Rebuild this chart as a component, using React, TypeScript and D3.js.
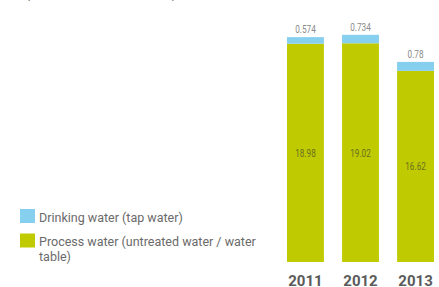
import React from 'react';
import * as d3 from 'd3';

const years = ['2011', '2012', '2013'];
const processWater = [18.98, 19.02, 16.62];
const drinkingWater = [0.574, 0.734, 0.78];
const legendLabels = [
  ['Drinking water (tap water)'],
  ['Process water (untreated water / water', 'table)'],
];

const W = 439;
const H = 287;
const BLUE = '#86cfef';
const GREEN = '#bfcb00';

// condensed-looking label: squeeze horizontally around its anchor
function Narrow(props: { x: number; y: number; fill: string; children: any }) {
  return (
    <g transform={`translate(${props.x},${props.y}) scale(0.78,1)`}>
      <text textAnchor="middle" fontSize={10.5} fill={props.fill}
        fontFamily="Roboto, sans-serif">{props.children}</text>
    </g>
  );
}

export default function App() {
  const x = d3.scaleBand().domain(years).range([276, 445]).paddingInner(0.33).paddingOuter(0.2);
  const y = d3.scaleLinear().domain([0, 20]).range([262, 32]);

  return (
    <svg width={W} height={H} style={{ position: 'absolute', left: 0, top: 0 }}>
      <text x={24} y={-3} fontSize={18} fill="#777" fontFamily="Roboto, sans-serif"
        textLength={154}>(in thousand m³)</text>
      {years.map((yr, i) => {
        const bx = x(yr)!;
        const bw = x.bandwidth();
        const gTop = y(processWater[i]);
        const bTop = y(processWater[i] + drinkingWater[i]);
        return (
          <g key={yr}>
            <rect x={bx} y={gTop} width={bw} height={y(0) - gTop} fill={GREEN} />
            <rect x={bx} y={bTop} width={bw} height={gTop - bTop} fill={BLUE} />
            <Narrow x={bx + bw / 2} y={bTop - 4} fill="#8a8a8a">{drinkingWater[i]}</Narrow>
            <Narrow x={bx + bw / 2} y={(gTop + y(0)) / 2 + 4} fill="#6b6e20">{processWater[i]}</Narrow>
            <text x={bx + bw / 2} y={285.5} textAnchor="middle" fontSize={15} fontWeight="bold"
              fill="#5a5a5a" fontFamily="Roboto, sans-serif">{yr}</text>
          </g>
        );
      })}
      {legendLabels.map((lines, i) => {
        const ly = 209 + i * 24.5;
        return (
          <g key={i}>
            <rect x={20} y={ly} width={15} height={14} fill={i === 0 ? BLUE : GREEN} />
            {lines.map((t, j) => (
              <text key={j} x={39} y={ly + 12.5 + j * 15} fontSize={12.5} fill="#6a6a6a"
                fontFamily="Roboto, sans-serif">{t}</text>
            ))}
          </g>
        );
      })}
    </svg>
  );
}
